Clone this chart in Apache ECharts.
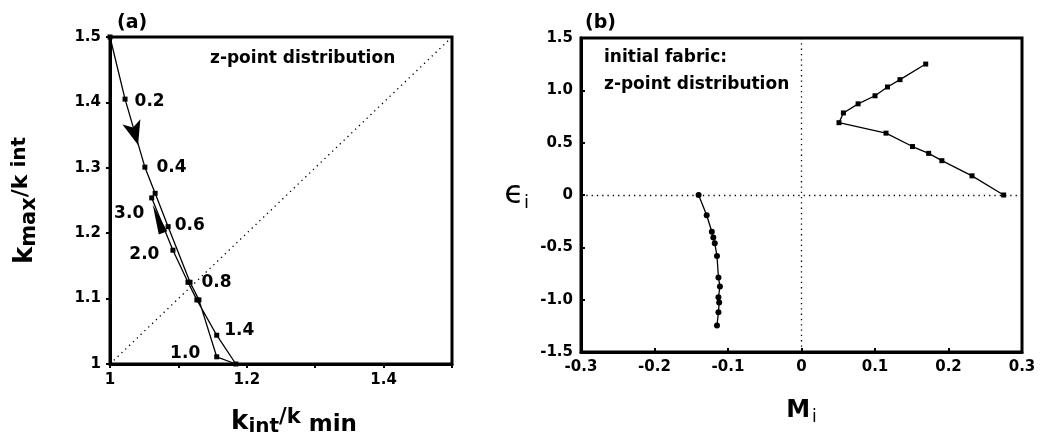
<!DOCTYPE html>
<html>
<head>
<meta charset="utf-8">
<script src="https://cdn.jsdelivr.net/npm/echarts@6/dist/echarts.min.js"></script>
<style>
    html,body{margin:0;padding:0;background:#fff;}
    #chart{width:1040px;height:445px;}
</style>
</head>
<body>
<div id="chart"></div>
<script>
    // panel (a): path of k_int/k_min vs k_max/k_int
    var kIntMin = [1.000, 1.022, 1.051, 1.066, 1.085, 1.117, 1.130, 1.156, 1.184, 1.156, 1.127, 1.114, 1.092, 1.061];
    var kMaxInt = [1.500, 1.405, 1.301, 1.261, 1.210, 1.125, 1.098, 1.011, 1.000, 1.044, 1.098, 1.125, 1.174, 1.254];
    var stepLabels = ['', '0.2', '0.4', '', '0.6', '0.8', '', '1.0', '', '1.4', '', '', '2.0', '3.0'];
    var diagX = [1, 1.5];
    var diagY = [1, 1.5];
    var arrowX = [1.041, 1.070];
    var arrowY = [1.335, 1.222];

    // panel (b): M_i vs eps_i
    var miPos  = [0.169, 0.134, 0.117, 0.100, 0.077, 0.057, 0.051, 0.115, 0.151, 0.173, 0.191, 0.232, 0.275];
    var epsPos = [1.251, 1.102, 1.032, 0.948, 0.871, 0.784, 0.691, 0.591, 0.463, 0.398, 0.328, 0.183, 0.0];
    var miNeg  = [-0.140, -0.129, -0.122, -0.120, -0.118, -0.115, -0.113, -0.111, -0.113, -0.112, -0.113, -0.115];
    var epsNeg = [0.0, -0.193, -0.351, -0.405, -0.462, -0.582, -0.788, -0.874, -0.978, -1.026, -1.121, -1.247];

    var FONT = '"DejaVu Sans", sans-serif';

    // label placement for the step numbers in (a)
    var labelPos = {
        '0.2': {position: 'right', offset: [2, 2]},
        '0.4': {position: 'right', offset: [4, 0]},
        '0.6': {position: 'right', offset: [-1, -1]},
        '0.8': {position: 'right', offset: [4, 0]},
        '1.0': {position: 'left', offset: [-9, -3]},
        '1.4': {position: 'right', offset: [0, -5]},
        '2.0': {position: 'left', offset: [-6, 4]},
        '3.0': {position: 'left', offset: [0, 16]}
    };

    function zip(xs, ys){
        return xs.map(function(x, i){ return [x, ys[i]]; });
    }

    var pathData = kIntMin.map(function(x, i){
        var item = {value: [x, kMaxInt[i]]};
        var lb = stepLabels[i];
        if(lb){
            item.label = {
                show: true, formatter: lb,
                position: labelPos[lb].position, offset: labelPos[lb].offset,
                color: '#000', fontSize: 17, fontWeight: 'bold', fontFamily: FONT
            };
        }
        return item;
    });

    var arrowStyle = [
        {symbol: 'arrow', symbolSize: [14, 24], symbolRotate: 196},
        {symbol: 'triangle', symbolSize: [9, 30], symbolRotate: 20}
    ];
    var arrowData = arrowX.map(function(x, i){
        return {
            value: [x, arrowY[i]],
            symbol: arrowStyle[i].symbol,
            symbolSize: arrowStyle[i].symbolSize,
            symbolRotate: arrowStyle[i].symbolRotate
        };
    });

    function oneDecimal(v){
        var r = Math.round(v * 10);
        if(r === 0) return '0';
        return (r / 10).toFixed(1);
    }

    function makeAxis(extra, tickInside){
        var o = {
            axisLine: {show: true, onZero: false, lineStyle: {color: '#000', width: 3}},
            axisTick: {show: true, inside: tickInside, length: 4, lineStyle: {color: '#000', width: 2}},
            splitLine: {show: false},
            axisLabel: {color: '#000', fontSize: 15, fontWeight: 'bold', fontFamily: FONT, margin: 8}
        };
        for(var k in extra){
            if(k === 'axisLabel'){
                for(var kk in extra[k]) o.axisLabel[kk] = extra[k][kk];
            } else {
                o[k] = extra[k];
            }
        }
        return o;
    }

    var myChart = echarts.init(document.getElementById('chart'));

    var option = {
        animation: false,
        backgroundColor: '#fff',
        textStyle: {fontFamily: FONT},
        grid: [
            {left: 110, top: 37, width: 342, height: 327, show: true, borderColor: '#000', borderWidth: 3,
                containLabel: false, outerBoundsMode: 'none'},
            {left: 581, top: 38, width: 441, height: 314, show: true, borderColor: '#000', borderWidth: 3,
                containLabel: false, outerBoundsMode: 'none'}
        ],
        title: [
            {text: '(a)', left: 112, top: 9, textStyle: {fontSize: 19, fontWeight: 'bold', color: '#000', fontFamily: FONT}},
            {text: '(b)', left: 580, top: 9, textStyle: {fontSize: 19, fontWeight: 'bold', color: '#000', fontFamily: FONT}}
        ],
        graphic: [
            {type: 'text', left: 210, top: 50, style: {text: 'z-point distribution', fontSize: 17, fontWeight: 'bold', fill: '#000', fontFamily: FONT}},
            {type: 'text', left: 604, top: 44, style: {text: 'initial fabric:\nz-point distribution', fontSize: 17, fontWeight: 'bold', lineHeight: 27, fill: '#000', fontFamily: FONT}}
        ],
        xAxis: [
            makeAxis({
                type: 'value', gridIndex: 0, min: 1, max: 1.5, interval: 0.1,
                axisLabel: {margin: 9, formatter: function(v){
                    var r = Math.round(v * 10);
                    if(r === 10) return '1';
                    if(r === 12 || r === 14) return (r / 10).toFixed(1);
                    return '';
                }},
                name: '{k|k}{s|int}{p|/k}{m| min}',
                nameLocation: 'middle', nameGap: 43,
                nameTextStyle: {
                    padding: [0, 0, 0, 26],
                    rich: {
                        k: {fontSize: 26, lineHeight: 30, verticalAlign: 'middle', color: '#000', fontWeight: 'bold', fontFamily: FONT},
                        s: {fontSize: 20, lineHeight: 20, verticalAlign: 'bottom', color: '#000', fontWeight: 'bold', fontFamily: FONT},
                        p: {fontSize: 21, lineHeight: 30, verticalAlign: 'top', padding: [0, 0, 6, 0], color: '#000', fontWeight: 'bold', fontFamily: FONT},
                        m: {fontSize: 23, lineHeight: 24, verticalAlign: 'bottom', color: '#000', fontWeight: 'bold', fontFamily: FONT}
                    }
                }
            }, false),
            makeAxis({
                type: 'value', gridIndex: 1, min: -0.3, max: 0.3, interval: 0.1,
                axisLabel: {margin: 8, formatter: oneDecimal},
                name: '{m|M}{s|i}',
                nameLocation: 'middle', nameGap: 44,
                nameTextStyle: {
                    rich: {
                        m: {fontSize: 24, lineHeight: 30, verticalAlign: 'middle', fontWeight: 'bold', color: '#000', fontFamily: FONT},
                        s: {fontSize: 17, lineHeight: 18, verticalAlign: 'bottom', padding: [0, 0, 0, 2], color: '#000', fontFamily: FONT}
                    }
                }
            }, true)
        ],
        yAxis: [
            makeAxis({
                type: 'value', gridIndex: 0, min: 1, max: 1.5, interval: 0.1,
                axisLabel: {margin: 9, formatter: function(v){
                    var r = Math.round(v * 10);
                    return r === 10 ? '1' : (r / 10).toFixed(1);
                }},
                name: '{k|k}{s|max}{p|/k}{q| int}',
                nameLocation: 'middle', nameGap: 70, nameRotate: 90,
                nameTextStyle: {
                    rich: {
                        k: {fontSize: 26, lineHeight: 30, verticalAlign: 'middle', color: '#000', fontWeight: 'bold', fontFamily: FONT},
                        s: {fontSize: 21, lineHeight: 22, verticalAlign: 'bottom', color: '#000', fontWeight: 'bold', fontFamily: FONT},
                        p: {fontSize: 22, lineHeight: 30, verticalAlign: 'top', color: '#000', fontWeight: 'bold', fontFamily: FONT},
                        q: {fontSize: 20, lineHeight: 30, verticalAlign: 'top', color: '#000', fontWeight: 'bold', fontFamily: FONT}
                    }
                }
            }, false),
            makeAxis({
                type: 'value', gridIndex: 1, min: -1.5, max: 1.5, interval: 0.5,
                axisLabel: {margin: 8, formatter: oneDecimal},
                name: '{e|\u03F5}{s|i}',
                nameLocation: 'middle', nameGap: 52, nameRotate: 0,
                nameTextStyle: {
                    rich: {
                        e: {fontSize: 32, lineHeight: 34, verticalAlign: 'middle', color: '#000', fontFamily: FONT},
                        s: {fontSize: 18, lineHeight: 18, verticalAlign: 'bottom', color: '#000', fontFamily: FONT}
                    }
                }
            }, true)
        ],
        series: [
            {
                name: 'diagonal', type: 'line', xAxisIndex: 0, yAxisIndex: 0,
                data: zip(diagX, diagY), symbol: 'none', silent: true,
                lineStyle: {color: '#000', width: 1.3, type: [1.3, 4]}
            },
            {
                name: 'path', type: 'line', xAxisIndex: 0, yAxisIndex: 0,
                data: pathData, symbol: 'rect', symbolSize: 5, showAllSymbol: true,
                itemStyle: {color: '#000'},
                lineStyle: {color: '#000', width: 1.3}
            },
            {
                name: 'arrows', type: 'scatter', xAxisIndex: 0, yAxisIndex: 0,
                data: arrowData, itemStyle: {color: '#000', opacity: 1}, silent: true
            },
            {
                name: 'right branch', type: 'line', xAxisIndex: 1, yAxisIndex: 1,
                data: zip(miPos, epsPos), symbol: 'rect', symbolSize: 5, showAllSymbol: true,
                itemStyle: {color: '#000'},
                lineStyle: {color: '#000', width: 1.3},
                markLine: {
                    silent: true, symbol: 'none', label: {show: false},
                    lineStyle: {color: '#000', width: 1.3, type: [1.3, 4]},
                    data: [{xAxis: 0}, {yAxis: 0}]
                }
            },
            {
                name: 'left branch', type: 'line', xAxisIndex: 1, yAxisIndex: 1,
                data: zip(miNeg, epsNeg), symbol: 'circle', symbolSize: 6, showAllSymbol: true,
                itemStyle: {color: '#000'},
                lineStyle: {color: '#000', width: 1.3}
            }
        ]
    };
    myChart.setOption(option, true);
</script>
</body>
</html>
